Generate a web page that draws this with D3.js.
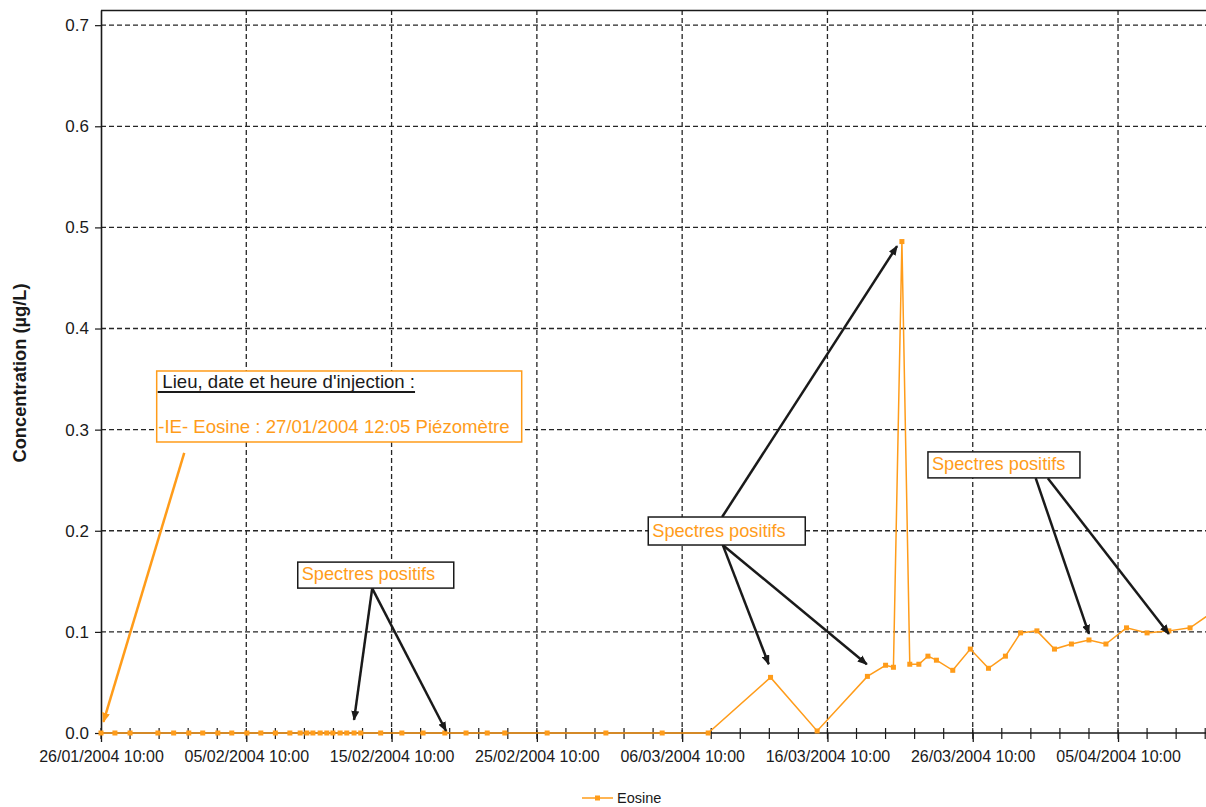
<!DOCTYPE html>
<html>
<head>
<meta charset="utf-8">
<script src="https://cdn.jsdelivr.net/npm/d3@7"></script>
<style>
  body { margin: 0; background: #fff; }
  svg text { font-family: "Liberation Sans", Arial, sans-serif; }
</style>
</head>
<body>
<svg id="chart"></svg>
<script>
const WIDTH = 1206
const HEIGHT = 807
const ORANGE = '#ff9c1a'
const INK = '#1a1a1a'
const GRID = '#262626'

// sample dates (dd/mm/yyyy hh:mm) and Eosine concentration (µg/L)
const DATES = [
  '26/01/2004 10:00', '27/01/2004 09:00', '28/01/2004 10:00', '30/01/2004 08:00',
  '31/01/2004 10:00', '01/02/2004 11:00', '02/02/2004 10:00', '03/02/2004 11:00',
  '04/02/2004 10:00', '05/02/2004 11:00', '06/02/2004 10:00', '07/02/2004 10:00',
  '08/02/2004 10:00', '09/02/2004 03:00', '09/02/2004 14:00', '10/02/2004 00:00',
  '10/02/2004 12:00', '10/02/2004 23:00', '11/02/2004 09:00', '11/02/2004 21:00',
  '12/02/2004 08:00', '12/02/2004 20:00', '13/02/2004 07:00', '14/02/2004 16:00',
  '16/02/2004 03:00', '17/02/2004 14:00', '19/02/2004 02:00', '20/02/2004 13:00',
  '22/02/2004 00:00', '23/02/2004 05:00', '26/02/2004 03:00', '01/03/2004 04:00',
  '05/03/2004 01:00', '08/03/2004 05:00', '12/03/2004 12:00', '15/03/2004 17:00',
  '19/03/2004 04:00', '20/03/2004 10:00', '20/03/2004 23:00', '21/03/2004 13:00',
  '22/03/2004 02:00', '22/03/2004 17:00', '23/03/2004 08:00', '23/03/2004 22:00',
  '25/03/2004 01:00', '26/03/2004 06:00', '27/03/2004 12:00', '28/03/2004 16:00',
  '29/03/2004 17:00', '30/03/2004 20:00', '01/04/2004 01:00', '02/04/2004 05:00',
  '03/04/2004 10:00', '04/04/2004 14:00', '06/04/2004 00:00', '07/04/2004 10:00',
  '08/04/2004 22:00', '10/04/2004 09:00', '11/04/2004 21:00'
]
const EOSINE = [
  0, 0, 0, 0, 0, 0, 0, 0, 0, 0, 0, 0, 0, 0, 0, 0, 0,
  0, 0, 0, 0, 0, 0, 0, 0, 0, 0, 0, 0, 0, 0, 0, 0, 0,
  0.055, 0.002, 0.056, 0.067, 0.065, 0.486, 0.068, 0.068, 0.076, 0.072,
  0.062, 0.083, 0.064, 0.076, 0.099, 0.101, 0.083, 0.088, 0.092, 0.088,
  0.104, 0.099, 0.101, 0.104, 0.119
]
const SERIES_NAME = 'Eosine'

const X_START = '26/01/2004 10:00'
const X_END = '12/04/2004 10:00'
const X_TICKS = [
  '26/01/2004 10:00', '05/02/2004 10:00', '15/02/2004 10:00', '25/02/2004 10:00',
  '06/03/2004 10:00', '16/03/2004 10:00', '26/03/2004 10:00', '05/04/2004 10:00'
]
const Y_TICKS = [0, 0.1, 0.2, 0.3, 0.4, 0.5, 0.6, 0.7]
const Y_MAX = 0.715
const Y_TITLE = 'Concentration (µg/L)'

const INJECTION_TITLE = ' Lieu, date et heure d\'injection :'
const INJECTION_TEXT = '-IE- Eosine : 27/01/2004 12:05 Piézomètre'
const INJECTION_BOX = ['30/01/2004 06:00', 0.358]
const INJECTION_ARROW = [['01/02/2004 03:30', 0.277], ['26/01/2004 14:00', 0.011]]

const CALLOUT_TEXT = 'Spectres positifs'
const CALLOUTS = [
  {at: ['08/02/2004 23:00', 0.169], w: 156, h: 26, arrows: [
    [['14/02/2004 02:00', 0.143], ['12/02/2004 20:00', 0.013]],
    [['14/02/2004 02:00', 0.143], ['19/02/2004 04:00', 0.002]]
  ]},
  {at: ['04/03/2004 02:00', 0.2136], w: 157, h: 28, arrows: [
    [['09/03/2004 04:00', 0.2136], ['21/03/2004 05:00', 0.4815]],
    [['09/03/2004 05:00', 0.186], ['12/03/2004 09:00', 0.068]],
    [['09/03/2004 05:00', 0.186], ['19/03/2004 03:00', 0.068]]
  ]},
  {at: ['23/03/2004 08:00', 0.278], w: 152, h: 26, arrows: [
    [['30/03/2004 18:00', 0.252], ['03/04/2004 10:00', 0.098]],
    [['31/03/2004 14:00', 0.252], ['08/04/2004 22:00', 0.098]]
  ]}
]

const parse = d3.utcParse('%d/%m/%Y %H:%M')
const data = DATES.map((d, i) => ({date: parse(d), value: EOSINE[i]}))

const svg = d3.select('#chart').attr('width', WIDTH).attr('height', HEIGHT)

const plotLeft = 101
const plotTop = 10
const plotBottom = 733
const x = d3.scaleUtc().domain([parse(X_START), parse(X_END)]).range([plotLeft, plotLeft + 77 * 14.529])
const y = d3.scaleLinear().domain([0, Y_MAX]).range([plotBottom, plotTop])
const px = p => [x(parse(p[0])), y(p[1])]

// arrow heads
const defs = svg.append('defs')
;[['arrow-black', INK], ['arrow-orange', ORANGE]].forEach(([id, color]) => {
  defs.append('marker')
    .attr('id', id)
    .attr('markerUnits', 'userSpaceOnUse')
    .attr('viewBox', '0 0 10 8')
    .attr('markerWidth', 10).attr('markerHeight', 8)
    .attr('refX', 9).attr('refY', 4)
    .attr('orient', 'auto')
    .append('path').attr('d', 'M0,0 L10,4 L0,8 Z').attr('fill', color)
})

// grille
var majors = X_TICKS.map(parse)
var grid = svg.append('g').attr('class', 'grid')
grid.selectAll('.hgrid').data(Y_TICKS.filter(v => v > 0)).enter()
  .append('line')
  .attr('x1', plotLeft).attr('x2', WIDTH + 20)
  .attr('y1', d => y(d)).attr('y2', d => y(d))
grid.selectAll('.vgrid').data(majors.slice(1)).enter()
  .append('line')
  .attr('x1', d => x(d)).attr('x2', d => x(d))
  .attr('y1', plotTop).attr('y2', plotBottom)
grid.selectAll('line')
  .attr('stroke', GRID).attr('stroke-width', 1.3).attr('stroke-dasharray', '5,3')

// cadre haut
svg.append('line')
  .attr('x1', plotLeft).attr('x2', WIDTH + 20)
  .attr('y1', plotTop + 0.5).attr('y2', plotTop + 0.5)
  .attr('stroke', INK).attr('stroke-width', 1.5)

// axe Y
var yAxis = d3.axisLeft(y).tickValues(Y_TICKS).tickSize(6).tickSizeOuter(0).tickPadding(6)
  .tickFormat(d3.format('.1f'))
var yAxisEl = svg.append('g').attr('transform', `translate(${plotLeft}, 0)`).call(yAxis)
yAxisEl.select('.domain').attr('stroke', INK).attr('stroke-width', 1.6)
yAxisEl.selectAll('.tick line').attr('stroke', INK).attr('stroke-width', 1.2)
yAxisEl.selectAll('.tick text')
  .attr('font-size', 17).attr('fill', INK)
  .style('font-family', '"Liberation Sans", Arial, sans-serif')

// axe X
var xAxisEl = svg.append('g').attr('transform', `translate(0, ${plotBottom})`)
xAxisEl.append('line')
  .attr('x1', plotLeft).attr('x2', WIDTH + 20)
  .attr('stroke', INK).attr('stroke-width', 1.6)
var minors = d3.range(0, 78, 2).map(n => d3.utcDay.offset(parse(X_START), n))
xAxisEl.selectAll('.minor').data(minors).enter()
  .append('line')
  .attr('x1', d => x(d)).attr('x2', d => x(d))
  .attr('y1', -5).attr('y2', 6)
  .attr('stroke', INK).attr('stroke-width', 1.2)
var xAxis = d3.axisBottom(x).tickValues(majors).tickSize(9).tickSizeOuter(0).tickPadding(9)
  .tickFormat(d3.utcFormat('%d/%m/%Y %H:%M'))
var xTicks = svg.append('g').attr('transform', `translate(0, ${plotBottom})`).call(xAxis)
xTicks.select('.domain').remove()
xTicks.selectAll('.tick line').attr('stroke', INK).attr('stroke-width', 1.3)
xTicks.selectAll('.tick text')
  .attr('font-size', 16).attr('fill', INK)
  .style('font-family', '"Liberation Sans", Arial, sans-serif')

// titre Y
svg.append('text')
  .attr('transform', `translate(26, 373) rotate(-90)`)
  .attr('text-anchor', 'middle')
  .attr('font-size', 18.3).attr('font-weight', 'bold').attr('fill', INK)
  .text(Y_TITLE)

// courbe
var line = d3.line().x(d => x(d.date)).y(d => y(d.value))
svg.append('path')
  .datum(data)
  .attr('d', line)
  .attr('fill', 'none')
  .attr('stroke', ORANGE)
  .attr('stroke-width', 1.5)
svg.selectAll('.pt').data(data).enter()
  .append('rect')
  .attr('class', 'pt')
  .attr('x', d => x(d.date) - 2.5).attr('y', d => y(d.value) - 2.5)
  .attr('width', 5).attr('height', 5)
  .attr('fill', ORANGE)

// annotations
var drawArrow = (from, to, color, marker) => {
  var a = px(from), b = px(to)
  svg.append('line')
    .attr('x1', a[0]).attr('y1', a[1]).attr('x2', b[0]).attr('y2', b[1])
    .attr('stroke', color).attr('stroke-width', 2.5)
    .attr('marker-end', `url(#${marker})`)
}

drawArrow(INJECTION_ARROW[0], INJECTION_ARROW[1], ORANGE, 'arrow-orange')
var ib = px(INJECTION_BOX)
svg.append('rect')
  .attr('x', ib[0]).attr('y', ib[1]).attr('width', 365).attr('height', 71)
  .attr('fill', '#fff').attr('stroke', ORANGE).attr('stroke-width', 1.5)
var title = svg.append('text')
  .attr('x', ib[0] + 0.5).attr('y', ib[1] + 17)
  .attr('font-size', 18.6).attr('fill', INK)
  .style('white-space', 'pre')
  .text(INJECTION_TITLE)
var tw = title.node().getComputedTextLength()
svg.append('line')
  .attr('x1', ib[0] + 1).attr('x2', ib[0] + 0.5 + tw)
  .attr('y1', ib[1] + 21).attr('y2', ib[1] + 21)
  .attr('stroke', INK).attr('stroke-width', 2)
svg.append('text')
  .attr('x', ib[0] + 1.5).attr('y', ib[1] + 62)
  .attr('font-size', 18.6).attr('fill', ORANGE)
  .text(INJECTION_TEXT)

CALLOUTS.forEach(c => {
  c.arrows.forEach(([from, to]) => drawArrow(from, to, INK, 'arrow-black'))
  var p = px(c.at)
  svg.append('rect')
    .attr('x', p[0]).attr('y', p[1]).attr('width', c.w).attr('height', c.h)
    .attr('fill', '#fff').attr('stroke', INK).attr('stroke-width', 1.5)
  svg.append('text')
    .attr('x', p[0] + 4).attr('y', p[1] + c.h - 8)
    .attr('font-size', 18.2).attr('fill', ORANGE)
    .text(CALLOUT_TEXT)
})

// légende
var legend = svg.append('g').attr('transform', 'translate(582, 798)')
legend.append('line').attr('x1', 0).attr('x2', 31).attr('stroke', ORANGE).attr('stroke-width', 1.5)
legend.append('rect').attr('x', 13).attr('y', -2.5).attr('width', 5).attr('height', 5).attr('fill', ORANGE)
legend.append('text')
  .attr('x', 35).attr('y', 5)
  .attr('font-size', 14.5).attr('fill', INK)
  .text(SERIES_NAME)
</script>
</body>
</html>
